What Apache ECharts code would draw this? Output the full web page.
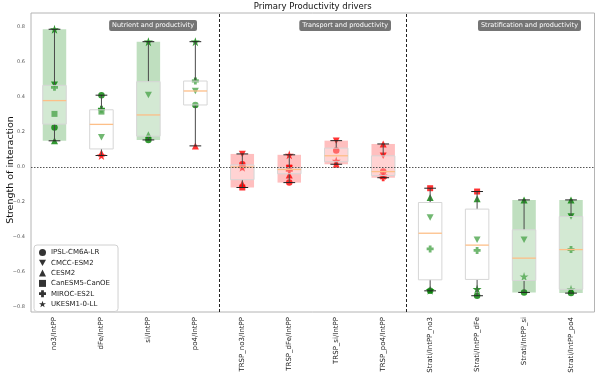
<!DOCTYPE html>
<html>
<head>
<meta charset="utf-8">
<script src="https://cdn.jsdelivr.net/npm/echarts@6/dist/echarts.min.js"></script>
<style>
  html, body { margin: 0; padding: 0; background: #fff; }
  #main { width: 600px; height: 374px; }
</style>
</head>
<body>
<div id="main"></div>
<script>
// categories on the x axis
const categories = ['no3/IntPP', 'dFe/IntPP', 'si/IntPP', 'po4/IntPP',
  'TRSP_no3/IntPP', 'TRSP_dFe/IntPP', 'TRSP_si/IntPP', 'TRSP_po4/IntPP',
  'Strati/IntPP_no3', 'Strati/IntPP_dFe', 'Strati/IntPP_si', 'Strati/IntPP_po4'];

const models = ['IPSL-CM6A-LR', 'CMCC-ESM2', 'CESM2', 'CanESM5-CanOE', 'MIROC-ES2L', 'UKESM1-0-LL'];

// strength of interaction per model (null = not available)
const ipsl    = [0.225, 0.41, 0.154, 0.354, 0.015, -0.09, 0.093, -0.027, -0.709, -0.737, -0.718, -0.722];
const cmcc    = [0.47, 0.17, 0.411, 0.434, 0.074, -0.01, 0.15, 0.063, -0.29, -0.417, -0.417, -0.284];
const cesm2   = [0.149, 0.08, 0.183, 0.12, -0.097, -0.046, 0.015, 0.131, -0.175, -0.183, -0.189, -0.189];
const canesm5 = [0.303, 0.316, null, null, -0.118, -0.004, null, null, -0.122, -0.141, null, null];
const miroc   = [0.455, 0.33, null, 0.491, 0.0, -0.02, null, -0.062, -0.469, -0.478, null, -0.473];
const ukesm   = [0.787, 0.065, 0.716, 0.716, -0.002, 0.069, 0.034, -0.05, -0.705, -0.699, -0.627, -0.70];

// 1 = green marker, 0 = red marker
const ipslFlag    = [1, 1, 1, 1, 0, 0, 0, 0, 1, 1, 1, 1];
const cmccFlag    = [1, 1, 1, 1, 0, 0, 0, 0, 1, 1, 1, 1];
const cesm2Flag   = [1, 0, 1, 0, 0, 0, 0, 0, 1, 1, 1, 1];
const canesm5Flag = [1, 1, 1, 1, 0, 0, 0, 0, 0, 0, 1, 1];
const mirocFlag   = [1, 1, 1, 1, 0, 0, 0, 0, 1, 1, 1, 1];
const ukesmFlag   = [1, 0, 1, 1, 0, 0, 0, 0, 1, 1, 1, 1];

// agreement band behind each box: 'pos', 'neg' or null
const agreement = ['pos', null, 'pos', null, 'neg', 'neg', 'neg', 'neg', null, null, 'pos', 'pos'];

const yTicks = [-0.8, -0.6, -0.4, -0.2, 0.0, 0.2, 0.4, 0.6, 0.8];
const groupLabels = ['Nutrient and productivity', 'Transport and productivity', 'Stratification and productivity'];
const groupBreaks = [3.5, 7.5];

const allValues = [ipsl, cmcc, cesm2, canesm5, miroc, ukesm];
const allFlags = [ipslFlag, cmccFlag, cesm2Flag, canesm5Flag, mirocFlag, ukesmFlag];

const symbols = [
  'circle',
  'path://M0,0L10,0L5,9Z',
  'triangle',
  'rect',
  'path://M3,0H7V3H10V7H7V10H3V7H0V3H3Z',
  'path://M5,0L6.2,3.6L10,3.6L6.9,5.9L8.1,9.5L5,7.3L1.9,9.5L3.1,5.9L0,3.6L3.8,3.6Z'
];
const symbolSizes = [6.5, [7, 6.5], 7, 6, 7, 9];

// linear quantile, same as numpy default
function quantile(sorted, p) {
  const h = (sorted.length - 1) * p;
  const lo = Math.floor(h);
  const e = h - lo;
  return e ? sorted[lo] + e * (sorted[lo + 1] - sorted[lo]) : sorted[lo];
}

const boxData = categories.map(function (c, i) {
  const vals = allValues.map(a => a[i]).filter(v => v !== null).sort((a, b) => a - b);
  return [i, vals[0], quantile(vals, 0.25), quantile(vals, 0.5), quantile(vals, 0.75), vals[vals.length - 1]];
});

function renderSpan(params, api) {
  const i = api.value(0);
  const kind = agreement[i];
  if (!kind) return { type: 'group', children: [] };
  const w = api.size([1, 0])[0] * 0.5;
  const top = api.coord([i, api.value(5)]);
  const bot = api.coord([i, api.value(1)]);
  return {
    type: 'rect',
    shape: { x: top[0] - w / 2, y: top[1], width: w, height: bot[1] - top[1] },
    style: { fill: kind === 'pos' ? 'rgba(0,128,0,0.25)' : 'rgba(255,0,0,0.25)' }
  };
}

function renderBox(params, api) {
  const i = api.value(0);
  const w = api.size([1, 0])[0] * 0.5;
  const x = api.coord([i, 0])[0];
  const y = k => api.coord([i, api.value(k)])[1];
  const yLo = y(1), yQ1 = y(2), yMed = y(3), yQ3 = y(4), yHi = y(5);
  const cap = w * 0.5;
  const wl = { stroke: '#4a4a4a', lineWidth: 1 };
  const cl = { stroke: '#222', lineWidth: 1 };
  return {
    type: 'group',
    children: [
      { type: 'line', shape: { x1: x, y1: yHi, x2: x, y2: yQ3 }, style: wl },
      { type: 'line', shape: { x1: x, y1: yQ1, x2: x, y2: yLo }, style: wl },
      { type: 'rect', shape: { x: x - w / 2, y: yQ3, width: w, height: yQ1 - yQ3 },
        style: { fill: 'rgba(255,255,255,0.3)', stroke: '#d6d6d6', lineWidth: 1 } },
      { type: 'line', shape: { x1: x - w / 2, y1: yMed, x2: x + w / 2, y2: yMed },
        style: { stroke: '#fdbf88', lineWidth: 1.3 } },
      { type: 'line', shape: { x1: x - cap / 2, y1: yHi, x2: x + cap / 2, y2: yHi }, style: cl },
      { type: 'line', shape: { x1: x - cap / 2, y1: yLo, x2: x + cap / 2, y2: yLo }, style: cl }
    ]
  };
}

const scatterSeries = models.map(function (m, k) {
  const data = [];
  allValues[k].forEach(function (v, i) {
    if (v === null) return;
    data.push({ value: [i, v], itemStyle: { color: allFlags[k][i] ? '#008000' : '#ff0000' } });
  });
  return {
    name: m,
    type: 'scatter',
    symbol: symbols[k],
    symbolSize: symbolSizes[k],
    data: data,
    z: 3,
    silent: true
  };
});

const chart = echarts.init(document.getElementById('main'));

chart.setOption({
  animation: false,
  textStyle: { fontFamily: 'DejaVu Sans' },
  grid: {
    left: 31, right: 5.5, top: 13, bottom: 62,
    containLabel: false, outerBoundsMode: 'none',
    show: true, borderColor: '#b4b4b4', borderWidth: 1
  },
  legend: {
    orient: 'vertical',
    left: 34,
    top: 245,
    itemWidth: 7,
    itemHeight: 7,
    itemGap: 3.3,
    padding: [4, 8, 4, 5],
    backgroundColor: '#fff',
    borderColor: '#d0d0d0',
    borderWidth: 1,
    borderRadius: 3,
    selectedMode: false,
    textStyle: { fontSize: 7, color: '#222', fontFamily: 'DejaVu Sans' },
    data: models.map((m, k) => ({ name: m, icon: symbols[k], itemStyle: { color: '#000' } }))
  },
  xAxis: [{
    type: 'category',
    data: categories,
    axisLine: { show: false },
    axisTick: { alignWithLabel: true, length: 3, lineStyle: { color: '#888' } },
    axisLabel: { rotate: 90, fontSize: 7, color: '#222', margin: 5, interval: 0 },
    splitLine: { show: false }
  }, {
    type: 'value',
    min: -0.5,
    max: 11.5,
    show: false
  }],
  yAxis: {
    type: 'value',
    min: -0.83,
    max: 0.88,
    axisLine: { show: false },
    axisTick: { show: false },
    axisLabel: {
      fontSize: 5, color: '#555', margin: 6, customValues: yTicks,
      formatter: v => (v < -1e-9 ? '\u2212' : '') + Math.abs(v).toFixed(1)
    },
    splitLine: { show: false }
  },
  graphic: [
    { type: 'text', x: 312.7, y: 6.5, style: { text: 'Primary Productivity drivers', fill: '#111',
        font: '8.5px DejaVu Sans', align: 'center', verticalAlign: 'middle' } },
    { type: 'text', x: 11, y: 170, rotation: Math.PI / 2, style: { text: 'Strength of interaction', fill: '#111',
        font: '9.5px DejaVu Sans', align: 'center', verticalAlign: 'middle' } },
    { type: 'text', x: 197, y: 25.5, style: { text: groupLabels[0], fill: '#fff', font: '6.5px DejaVu Sans',
        align: 'right', verticalAlign: 'middle', backgroundColor: 'rgba(110,110,110,0.95)',
        padding: [2, 3, 2, 3], borderRadius: 2 } },
    { type: 'text', x: 391, y: 25.5, style: { text: groupLabels[1], fill: '#fff', font: '6.5px DejaVu Sans',
        align: 'right', verticalAlign: 'middle', backgroundColor: 'rgba(110,110,110,0.95)',
        padding: [2, 3, 2, 3], borderRadius: 2 } },
    { type: 'text', x: 581, y: 25.5, style: { text: groupLabels[2], fill: '#fff', font: '6.5px DejaVu Sans',
        align: 'right', verticalAlign: 'middle', backgroundColor: 'rgba(110,110,110,0.95)',
        padding: [2, 3, 2, 3], borderRadius: 2 } }
  ],
  series: [
    {
      type: 'scatter',
      xAxisIndex: 1,
      data: [],
      silent: true,
      markLine: {
        silent: true,
        symbol: 'none',
        label: { show: false },
        animation: false,
        data: [
          { yAxis: 0, lineStyle: { color: '#555', type: [1.5, 1.5], width: 1 } }
        ].concat(groupBreaks.map(b => ({ xAxis: b, lineStyle: { color: '#222', type: [3, 2], width: 1 } })))
      }
    },
    {
      type: 'custom',
      renderItem: renderSpan,
      data: boxData,
      z: 1,
      silent: true
    }
  ].concat(scatterSeries).concat([
    {
      type: 'custom',
      renderItem: renderBox,
      data: boxData,
      z: 4,
      silent: true
    }
  ])
});
</script>
</body>
</html>
